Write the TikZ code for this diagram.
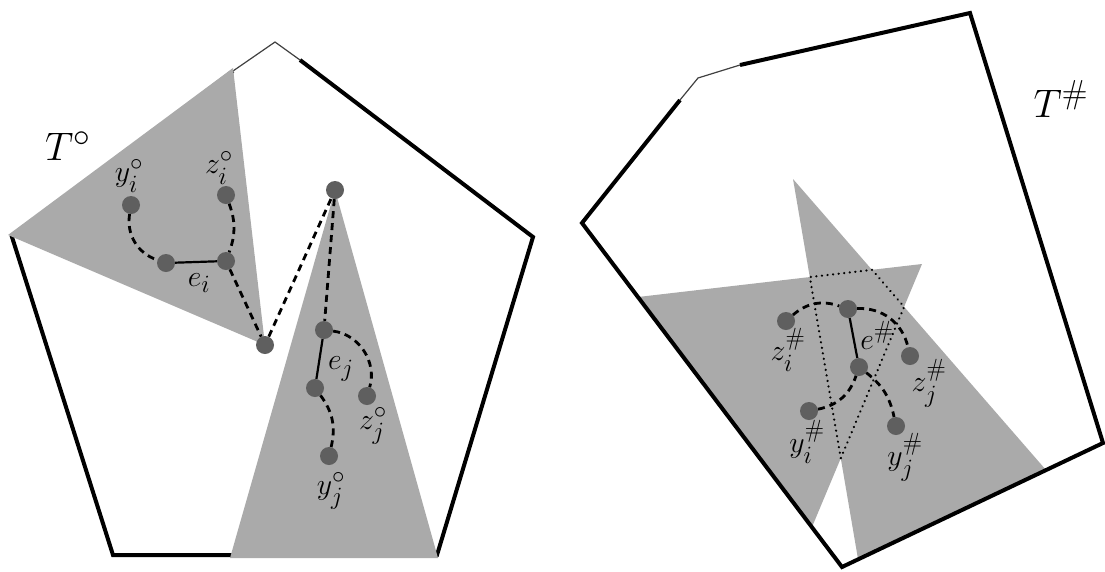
\documentclass[tikz,border=0pt]{standalone}
\usepackage{amsmath,amssymb}
\usepackage{xcolor}
\usepackage{tikz}
\tikzset{vtx/.style={circle,fill=vtxgray,inner sep=0pt,minimum size=18pt},
link/.style={black,line width=2.8pt,dash pattern=on 7pt off 5pt},
bond/.style={black,line width=2.2pt},
wedge/.style={black,line width=2.4pt,dash pattern=on 0.1pt off 5.5pt,line cap=round},
rim/.style={black,line width=4pt,line join=miter},
faint/.style={black!75,line width=1.2pt},
lbl/.style={font=\Huge,scale=1.2,inner sep=0pt},
big/.style={font=\Huge,scale=1.6,inner sep=0pt}}
\definecolor{vtxgray}{HTML}{5F5F5F}
\definecolor{regiongray}{HTML}{AAAAAA}

\begin{document}
\begin{tikzpicture}[x=1pt,y=1pt]
\useasboundingbox (0,0) rectangle (1105,-571);
% left: T circ
\draw[rim] (300,-60)--(533,-237)--(437,-555)--(113,-555)--(12,-237)--(233,-71);
\draw[faint] (233,-71)--(275,-42)--(300,-60);
\fill[regiongray] (8,-235)--(233,-68)--(265,-345)--cycle;
\fill[regiongray] (335,-190)--(230,-558)--(438,-558)--cycle;
\node[big] (TO) at (68,-146) {$T^\circ$};
\node[vtx] (yiO) at (131,-205) {};
\node[vtx] (ziO) at (226,-195) {};
\node[vtx] (eiA) at (166,-263) {};
\node[vtx] (eiB) at (226,-261) {};
\node[vtx] (cO) at (265,-345) {};
\node[vtx] (tO) at (335,-190) {};
\node[vtx] (ejA) at (324,-330) {};
\node[vtx] (ejB) at (315,-388) {};
\node[vtx] (zjO) at (367,-396) {};
\node[vtx] (yjO) at (329,-456) {};
\draw[link] (yiO) to[bend right=40] (eiA);
\draw[link] (ziO) to[bend left=20] (eiB);
\draw[bond] (eiA)--(eiB);
\draw[link] (eiB)--(cO);
\draw[link] (cO)--(tO);
\draw[link] (tO)--(ejA);
\draw[bond] (ejA)--(ejB);
\draw[link] (ejA) to[bend left=50] (zjO);
\draw[link] (ejB) to[bend left=25] (yjO);
\node[lbl] (yiOl) at (129,-176) {$y_i^\circ$};
\node[lbl] (ziOl) at (219,-168) {$z_i^\circ$};
\node[lbl] (eil) at (199,-283) {$e_i$};
\node[lbl] (ejl) at (341,-369) {$e_j$};
\node[lbl] (zjOl) at (373,-426) {$z_j^\circ$};
\node[lbl] (yjOl) at (331,-491) {$y_j^\circ$};
% right: T sharp
\coordinate (gA) at (793,-179);
\coordinate (gB) at (858,-559);
\coordinate (gC) at (1046,-470);
\coordinate (gP) at (638,-297);
\coordinate (gQ) at (922,-264);
\coordinate (gR) at (812,-527);
\fill[regiongray] (gP)--(gQ)--(gR)--cycle;
\fill[regiongray] (gA)--(gB)--(gC)--cycle;
\draw[rim] (740,-65)--(970,-13)--(1103,-443)--(842,-567)--(582,-223)--(680,-100);
\draw[faint] (680,-100)--(698,-78)--(740,-65);
\draw[wedge] (intersection of gA--gB and gQ--gR)--(intersection of gA--gB and gP--gQ)
  --(intersection of gA--gC and gP--gQ)--(intersection of gA--gC and gQ--gR)--cycle;
\node[big] (TH) at (1061,-99) {$T^\#$};
\node[vtx] (ziH) at (786,-321) {};
\node[vtx] (eA) at (848,-309) {};
\node[vtx] (eB) at (859,-367) {};
\node[vtx] (zjH) at (910,-356) {};
\node[vtx] (yiH) at (809,-411) {};
\node[vtx] (yjH) at (896,-426) {};
\draw[link] (ziH) to[bend left=30] (eA);
\draw[link] (eA) to[bend left=40] (zjH);
\draw[bond] (eA)--(eB);
\draw[link] (yiH) to[bend right=30] (eB);
\draw[link] (eB) to[bend left=20] (yjH);
\node[lbl] (ziHl) at (788,-350) {$z_i^\#$};
\node[lbl] (el) at (877,-335) {$e^\#$};
\node[lbl] (zjHl) at (929,-383) {$z_j^\#$};
\node[lbl] (yiHl) at (807,-442) {$y_i^\#$};
\node[lbl] (yjHl) at (905,-457) {$y_j^\#$};
\end{tikzpicture}
\end{document}
